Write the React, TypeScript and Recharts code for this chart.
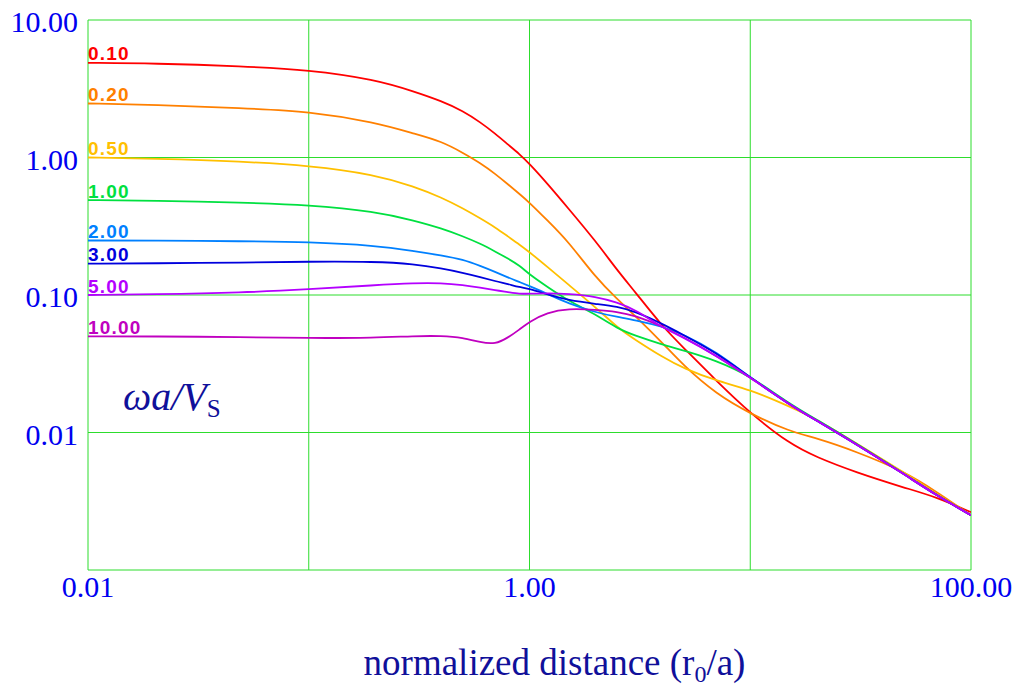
import { LineChart, Line, XAxis, YAxis, CartesianGrid } from 'recharts';

// normalized distance r0/a (sample positions)
const X_VALUES = [
  0.01, 0.02, 0.05, 0.1, 0.2, 0.3, 0.4, 0.5, 0.6, 0.7, 0.8, 0.9, 1, 1.2, 1.5, 2, 2.5, 3, 4, 5, 7, 10, 15, 20,
  30, 50, 70, 100,
];

// one array per ωa/Vs value
const W_010 = [
  4.88, 4.84, 4.61, 4.34, 3.69, 3.02, 2.57, 2.18, 1.8, 1.49, 1.24, 1.06, 0.9, 0.651, 0.426, 0.245, 0.151,
  0.106, 0.059, 0.0412, 0.0239, 0.0138, 0.0083, 0.0066, 0.00514, 0.00396, 0.00339, 0.00263,
];
const W_020 = [
  2.47, 2.42, 2.28, 2.17, 1.8, 1.49, 1.31, 1.08, 0.91, 0.76, 0.637, 0.543, 0.47, 0.351, 0.245, 0.133, 0.093,
  0.071, 0.045, 0.0305, 0.0191, 0.0137, 0.0102, 0.0091, 0.0073, 0.0052, 0.0037, 0.0025,
];
const W_050 = [
  1.0, 0.98, 0.935, 0.875, 0.752, 0.615, 0.512, 0.426, 0.36, 0.31, 0.266, 0.233, 0.205, 0.161, 0.119, 0.081,
  0.058, 0.0475, 0.0354, 0.0292, 0.0238, 0.0205, 0.0155, 0.0125, 0.0084, 0.0051, 0.00355, 0.0025,
];
const W_100 = [
  0.49, 0.486, 0.47, 0.452, 0.405, 0.348, 0.305, 0.267, 0.236, 0.207, 0.184, 0.164, 0.141, 0.115, 0.0907,
  0.0722, 0.057, 0.0507, 0.0436, 0.0395, 0.0334, 0.0258, 0.0162, 0.0124, 0.0084, 0.00498, 0.0035, 0.0025,
];
const W_200 = [
  0.249, 0.249, 0.246, 0.243, 0.229, 0.209, 0.194, 0.181, 0.1625, 0.147, 0.134, 0.1244, 0.116, 0.1025, 0.0867,
  0.0746, 0.0692, 0.0658, 0.059, 0.0516, 0.0388, 0.0251, 0.0161, 0.0122, 0.0083, 0.00495, 0.00348, 0.0025,
];
const W_300 = [
  0.169, 0.17, 0.172, 0.175, 0.175, 0.168, 0.156, 0.145, 0.135, 0.126, 0.12, 0.114, 0.111, 0.101, 0.0915,
  0.086, 0.0824, 0.0759, 0.0617, 0.051, 0.0382, 0.0251, 0.016, 0.0122, 0.0083, 0.00495, 0.00348, 0.0025,
];
const W_500 = [
  0.1, 0.101, 0.104, 0.11, 0.118, 0.122, 0.122, 0.118, 0.113, 0.108, 0.105, 0.102, 0.102, 0.103, 0.102,
  0.0975, 0.0882, 0.0785, 0.058, 0.049, 0.0363, 0.0251, 0.016, 0.0122, 0.0083, 0.00495, 0.00348, 0.0025,
];
const W_1000 = [
  0.05, 0.05, 0.0494, 0.0485, 0.0488, 0.0503, 0.0505, 0.0491, 0.0452, 0.0438, 0.049, 0.056, 0.064, 0.0745,
  0.0798, 0.078, 0.0755, 0.071, 0.059, 0.0493, 0.0363, 0.0251, 0.016, 0.0122, 0.0083, 0.00495, 0.00348, 0.0025,
];

const X_TICKS = [0.01, 0.1, 1, 10, 100];
const X_TICK_LABELS = ['0.01', '', '1.00', '', '100.00'];
const Y_TICKS = [0.001, 0.01, 0.1, 1, 10];
const Y_TICK_LABELS = ['', '0.01', '0.10', '1.00', '10.00'];

const SERIES = [
  { key: 'w010', name: '0.10', color: '#ff0000', values: W_010 },
  { key: 'w020', name: '0.20', color: '#ff8000', values: W_020 },
  { key: 'w050', name: '0.50', color: '#ffc000', values: W_050 },
  { key: 'w100', name: '1.00', color: '#00e040', values: W_100 },
  { key: 'w200', name: '2.00', color: '#0080ff', values: W_200 },
  { key: 'w300', name: '3.00', color: '#0000dd', values: W_300 },
  { key: 'w1000', name: '10.00', color: '#c000c0', values: W_1000 },
  { key: 'w500', name: '5.00', color: '#b400ff', values: W_500 },
];

const rows = X_VALUES.map((x, i) => {
  const row: Record<string, number> = { x };
  SERIES.forEach((s) => {
    row[s.key] = s.values[i];
  });
  return row;
});

const SERIF = '"Liberation Serif", "Times New Roman", serif';
const NAVY = '#10109a';
const TICK_BLUE = '#0000f0';
const GRID_GREEN = '#2ddd2d';

const XTick = (props: any) => {
  const { x, y, payload } = props;
  const label = X_TICK_LABELS[X_TICKS.indexOf(payload.value)] || '';
  return (
    <text x={x} y={y + 27} textAnchor="middle" fontFamily={SERIF} fontSize={30} fill={TICK_BLUE}>
      {label}
    </text>
  );
};

const YTick = (props: any) => {
  const { x, y, payload } = props;
  const label = Y_TICK_LABELS[Y_TICKS.indexOf(payload.value)] || '';
  return (
    <text x={x} y={y + 12} textAnchor="end" fontFamily={SERIF} fontSize={30} fill={TICK_BLUE}>
      {label}
    </text>
  );
};

const curveLabel = (name: string, color: string) => (p: any) => {
  if (p.index !== 0) return null;
  return (
    <text
      x={p.x}
      y={p.y - 2.5}
      fontFamily='"Liberation Sans", Arial, sans-serif'
      fontWeight="bold"
      fontSize={19}
      letterSpacing={1.2}
      fill={color}
    >
      {name}
    </text>
  );
};

const XTitle = (props: any) => {
  const { viewBox } = props;
  const cx = viewBox.x + viewBox.width / 2 + 25;
  return (
    <text x={cx} y={675} textAnchor="middle" fontFamily={SERIF} fontSize={37} fill={NAVY}>
      normalized distance (r
      <tspan fontSize={24} dy={7}>
        0
      </tspan>
      <tspan dy={-7}>/a)</tspan>
    </text>
  );
};

const YTitle = () => (
  <text x={123} y={410} fontFamily={SERIF} fontSize={40} fontStyle="italic" fill={NAVY}>
    ωa/V
    <tspan fontSize={25} fontStyle="normal" dy={7}>
      S
    </tspan>
  </text>
);

export default function App() {
  return (
    <div style={{ position: 'absolute', left: 0, top: 0, width: 1020, height: 686, background: '#fff' }}>
      <LineChart width={1020} height={686} data={rows} margin={{ top: 20, right: 49, bottom: 0, left: 0 }}>
        <CartesianGrid stroke={GRID_GREEN} strokeWidth={1} />
        <XAxis
          dataKey="x"
          type="number"
          scale="log"
          domain={[0.01, 100]}
          ticks={X_TICKS}
          interval={0}
          allowDataOverflow
          height={116}
          tickSize={0}
          tickMargin={0}
          axisLine={false}
          tickLine={false}
          tick={<XTick />}
          label={{ content: <XTitle /> }}
        />
        <YAxis
          type="number"
          scale="log"
          domain={[0.001, 10]}
          ticks={Y_TICKS}
          interval={0}
          allowDataOverflow
          width={88}
          tickSize={0}
          tickMargin={10}
          axisLine={false}
          tickLine={false}
          tick={<YTick />}
          label={{ content: <YTitle /> }}
        />
        {SERIES.map((s) => (
          <Line
            key={s.key}
            type="basis"
            dataKey={s.key}
            name={s.name}
            stroke={s.color}
            strokeWidth={1.8}
            dot={false}
            activeDot={false}
            isAnimationActive={false}
            label={curveLabel(s.name, s.color)}
          />
        ))}
      </LineChart>
    </div>
  );
}
